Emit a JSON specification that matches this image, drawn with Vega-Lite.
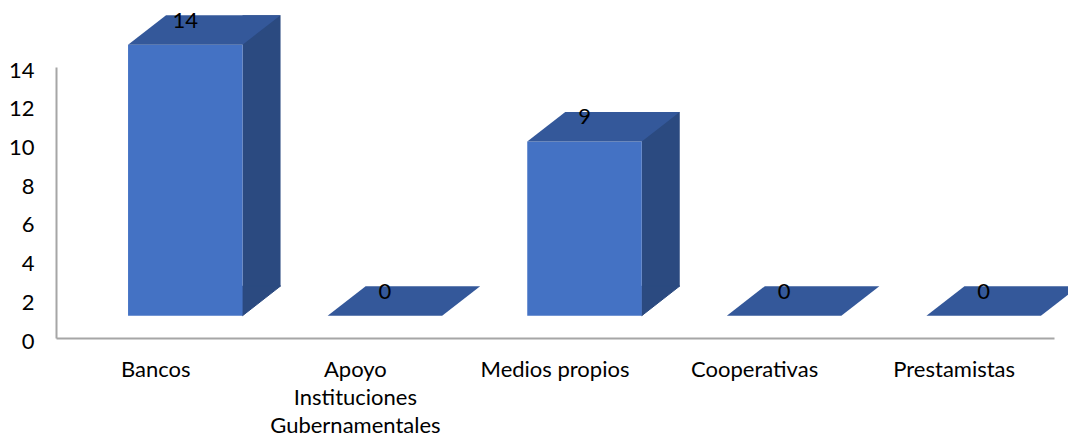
{
  "$schema": "https://vega.github.io/schema/vega-lite/v6.json",
  "width": 998,
  "height": 271,
  "autosize": {"type": "none"},
  "padding": {"left": 56, "top": 67, "right": 14, "bottom": 99},
  "background": "white",
  "config": {"view": {"stroke": null}, "font": "Lato"},
  "data": {
    "values": [
      {"categoria": "Bancos", "valor": 14},
      {"categoria": "Apoyo Instituciones Gubernamentales", "valor": 0},
      {"categoria": "Medios propios", "valor": 9},
      {"categoria": "Cooperativas", "valor": 0},
      {"categoria": "Prestamistas", "valor": 0}
    ]
  },
  "encoding": {
    "x": {
      "field": "categoria",
      "type": "nominal",
      "sort": ["Bancos", "Apoyo Instituciones Gubernamentales", "Medios propios", "Cooperativas", "Prestamistas"],
      "scale": {"paddingInner": 0, "paddingOuter": 0},
      "axis": {
        "title": null,
        "labelAngle": 0,
        "grid": false,
        "ticks": false,
        "tickSize": 0,
        "domainColor": "#A6A6A6",
        "domainWidth": 2,
        "labelFont": "Lato",
        "labelFontSize": 22,
        "labelColor": "#000000",
        "labelPadding": 21,
        "labelLineHeight": 28,
        "labelLimit": 400,
        "labelExpr": "datum.value == 'Apoyo Instituciones Gubernamentales' ? ['Apoyo', 'Instituciones', 'Gubernamentales'] : datum.label"
      }
    },
    "y": {
      "field": "valor",
      "type": "quantitative",
      "scale": {"domain": [0, 14]},
      "axis": {
        "title": null,
        "values": [0, 2, 4, 6, 8, 10, 12, 14],
        "grid": false,
        "ticks": false,
        "tickSize": 0,
        "domainColor": "#A6A6A6",
        "domainWidth": 2,
        "labelFont": "Lato",
        "labelFontSize": 22,
        "labelColor": "#000000",
        "labelPadding": 22,
        "labelOffset": 3
      }
    }
  },
  "layer": [
    {
      "transform": [{"filter": "datum.valor > 0"}],
      "mark": {"type": "bar", "width": 38, "xOffset": 105.75, "yOffset": -51.8, "y2Offset": -51.8, "color": "#2B4A80"},
      "encoding": {"y2": {"datum": 0}}
    },
    {
      "transform": [{"filter": "datum.valor > 0"}],
      "mark": {"type": "point", "shape": "M0.8675,-0.52L1.2475,-0.52L0.8675,-0.223Z", "size": 40000, "filled": true, "opacity": 1, "color": "#2B4A80", "stroke": "#2B4A80", "strokeWidth": 1},
      "encoding": {"y": {"datum": 0}}
    },
    {
      "transform": [{"filter": "datum.valor > 0"}],
      "mark": {"type": "bar", "width": 114.5, "xOffset": 29.5, "yOffset": -22.3, "y2Offset": -22.3, "color": "#4472C4"},
      "encoding": {"y2": {"datum": 0}}
    },
    {
      "mark": {"type": "point", "shape": "M-0.2775,-0.223L0.8675,-0.223L1.2475,-0.518L0.1025,-0.518Z", "size": 40000, "filled": true, "opacity": 1, "color": "#34589A", "strokeWidth": 0}
    },
    {
      "mark": {"type": "text", "dx": 29.5, "dy": -46.3, "fontSize": 22, "font": "Lato", "color": "#000000", "baseline": "middle"},
      "encoding": {"text": {"field": "valor", "type": "quantitative"}}
    }
  ]
}
